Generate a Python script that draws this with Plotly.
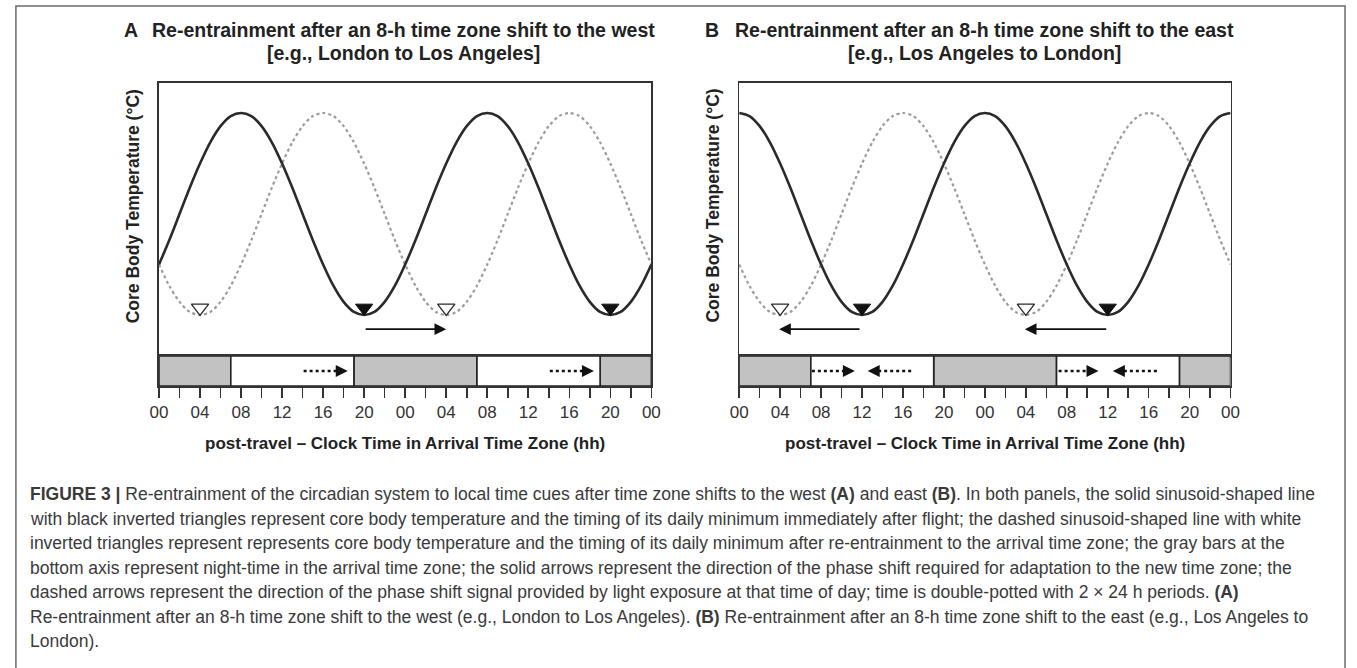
import plotly.graph_objects as go

W, H = 1357, 668

# ---------------- data ----------------
hours = [0, 1, 2, 3, 4, 5, 6, 7, 8, 9, 10, 11, 12, 13, 14, 15, 16, 17, 18, 19, 20, 21, 22, 23,
         24, 25, 26, 27, 28, 29, 30, 31, 32, 33, 34, 35, 36, 37, 38, 39, 40, 41, 42, 43, 44, 45,
         46, 47, 48]

# normalised core body temperature (arbitrary units)
a_solid = [-0.5, -0.26, 0, 0.26, 0.5, 0.71, 0.87, 0.97, 1, 0.97, 0.87, 0.71, 0.5, 0.26, 0,
           -0.26, -0.5, -0.71, -0.87, -0.97, -1, -0.97, -0.87, -0.71,
           -0.5, -0.26, 0, 0.26, 0.5, 0.71, 0.87, 0.97, 1, 0.97, 0.87, 0.71, 0.5, 0.26, 0,
           -0.26, -0.5, -0.71, -0.87, -0.97, -1, -0.97, -0.87, -0.71, -0.5]
a_dashed = [-0.5, -0.71, -0.87, -0.97, -1, -0.97, -0.87, -0.71, -0.5, -0.26, 0, 0.26, 0.5,
            0.71, 0.87, 0.97, 1, 0.97, 0.87, 0.71, 0.5, 0.26, 0, -0.26,
            -0.5, -0.71, -0.87, -0.97, -1, -0.97, -0.87, -0.71, -0.5, -0.26, 0, 0.26, 0.5,
            0.71, 0.87, 0.97, 1, 0.97, 0.87, 0.71, 0.5, 0.26, 0, -0.26, -0.5]
b_solid = [1, 0.97, 0.87, 0.71, 0.5, 0.26, 0, -0.26, -0.5, -0.71, -0.87, -0.97, -1, -0.97,
           -0.87, -0.71, -0.5, -0.26, 0, 0.26, 0.5, 0.71, 0.87, 0.97,
           1, 0.97, 0.87, 0.71, 0.5, 0.26, 0, -0.26, -0.5, -0.71, -0.87, -0.97, -1, -0.97,
           -0.87, -0.71, -0.5, -0.26, 0, 0.26, 0.5, 0.71, 0.87, 0.97, 1]
b_dashed = [-0.5, -0.71, -0.87, -0.97, -1, -0.97, -0.87, -0.71, -0.5, -0.26, 0, 0.26, 0.5,
            0.71, 0.87, 0.97, 1, 0.97, 0.87, 0.71, 0.5, 0.26, 0, -0.26,
            -0.5, -0.71, -0.87, -0.97, -1, -0.97, -0.87, -0.71, -0.5, -0.26, 0, 0.26, 0.5,
            0.71, 0.87, 0.97, 1, 0.97, 0.87, 0.71, 0.5, 0.26, 0, -0.26, -0.5]

# timing of daily minima (h)
a_min_solid = [20, 44]
a_min_dashed = [4, 28]
b_min_solid = [12, 36]
b_min_dashed = [4, 28]
min_marker_level = [-0.93, -0.93]

# solid phase-shift arrows (tail h, tip h)
a_shift_tail = [20]
a_shift_tip = [28]
b_shift_tail = [11.9, 36]
b_shift_tip = [3.9, 27.9]
shift_level = -1.14

# night-time (gray) and day-time (white) bars in arrival time zone
night_start = [0, 19, 43]
night_end = [7, 31, 48]
day_start = [7, 31]
day_end = [19, 43]

# dashed light-signal arrows (tail h, tip h)
a_light_tail = [14.1, 38.1]
a_light_tip = [18.4, 42.4]
b_light_tail = [7.1, 16.8, 31.2, 40.8]
b_light_tip = [11.3, 12.55, 35.1, 36.5]

tick_vals = [0, 2, 4, 6, 8, 10, 12, 14, 16, 18, 20, 22, 24,
             26, 28, 30, 32, 34, 36, 38, 40, 42, 44, 46, 48]
tick_text = ["00", "", "04", "", "08", "", "12", "", "16", "", "20", "", "00",
             "", "04", "", "08", "", "12", "", "16", "", "20", "", "00"]

caption_lines = [
    "<b>FIGURE 3 |</b> Re-entrainment of the circadian system to local time cues after time zone shifts to the west <b>(A)</b> and east <b>(B)</b>. In both panels, the solid sinusoid-shaped line",
    "with black inverted triangles represent core body temperature and the timing of its daily minimum immediately after flight; the dashed sinusoid-shaped line with white",
    "inverted triangles represent represents core body temperature and the timing of its daily minimum after re-entrainment to the arrival time zone; the gray bars at the",
    "bottom axis represent night-time in the arrival time zone; the solid arrows represent the direction of the phase shift required for adaptation to the new time zone; the",
    "dashed arrows represent the direction of the phase shift signal provided by light exposure at that time of day; time is double-potted with 2 \u00d7 24 h periods. <b>(A)</b>",
    "Re-entrainment after an 8-h time zone shift to the west (e.g., London to Los Angeles). <b>(B)</b> Re-entrainment after an 8-h time zone shift to the east (e.g., Los Angeles to",
    "London).",
]

# ---------------- layout helpers ----------------
def px(x):
    return x / W

def py(y):
    return 1 - y / H

FONT = "Liberation Sans, Arial, sans-serif"
DARK = "#2a2a2a"
LINE = "#333333"

panels = [
    dict(key="A", solid=a_solid, dashed=a_dashed, min_s=a_min_solid, min_d=a_min_dashed,
         sh_tail=a_shift_tail, sh_tip=a_shift_tip, l_tail=a_light_tail, l_tip=a_light_tip,
         x0=152, x1=651, ax=("x", "y", "x2", "y2"),
         t1="Re-entrainment after an 8-h time zone shift to the west",
         t2="[e.g., London to Los Angeles]", letter_x=124, ylab_x=126, tcx=400),
    dict(key="B", solid=b_solid, dashed=b_dashed, min_s=b_min_solid, min_d=b_min_dashed,
         sh_tail=b_shift_tail, sh_tip=b_shift_tip, l_tail=b_light_tail, l_tip=b_light_tip,
         x0=740, x1=1238, ax=("x3", "y3", "x4", "y4"),
         t1="Re-entrainment after an 8-h time zone shift to the east",
         t2="[e.g., Los Angeles to London]", letter_x=712, ylab_x=713, tcx=989),
]

TOP, MID, BOT = 83, 356, 386

fig = go.Figure()
annotations = []
layout_axes = {}

for p in panels:
    xa, ya, xb, yb = p["ax"]
    # curves
    fig.add_trace(go.Scatter(x=hours, y=p["dashed"], mode="lines", xaxis=xa, yaxis=ya,
                             line=dict(color="#9c9c9c", width=2.2, dash="dot",
                                       shape="spline", smoothing=0.8),
                             hoverinfo="skip", showlegend=False))
    fig.add_trace(go.Scatter(x=hours, y=p["solid"], mode="lines", xaxis=xa, yaxis=ya,
                             line=dict(color=DARK, width=2.6, shape="spline", smoothing=0.8),
                             hoverinfo="skip", showlegend=False))
    # minima markers
    fig.add_trace(go.Scatter(x=p["min_d"], y=min_marker_level, mode="markers", xaxis=xa, yaxis=ya,
                             marker=dict(symbol="triangle-down", size=15, color="white",
                                         line=dict(color=DARK, width=1.3)),
                             hoverinfo="skip", showlegend=False))
    fig.add_trace(go.Scatter(x=p["min_s"], y=min_marker_level, mode="markers", xaxis=xa, yaxis=ya,
                             marker=dict(symbol="triangle-down", size=15, color="#111111",
                                         line=dict(color="#111111", width=1.0)),
                             hoverinfo="skip", showlegend=False))
    # solid shift arrows
    for t0, t1 in zip(p["sh_tail"], p["sh_tip"]):
        annotations.append(dict(x=t1, y=shift_level, ax=t0, ay=shift_level,
                                xref=xa, yref=ya, axref=xa, ayref=ya, text="",
                                showarrow=True, arrowhead=2, arrowsize=1.3,
                                arrowwidth=1.8, arrowcolor="#111111"))
    # night / day bars
    fig.add_trace(go.Bar(orientation="h", y=[0] * len(night_start), base=night_start,
                         x=[e - s for s, e in zip(night_start, night_end)], width=1,
                         xaxis=xb, yaxis=yb,
                         marker=dict(color="#c2c2c2", line=dict(color="#222222", width=1.6)),
                         hoverinfo="skip", showlegend=False))
    fig.add_trace(go.Bar(orientation="h", y=[0] * len(day_start), base=day_start,
                         x=[e - s for s, e in zip(day_start, day_end)], width=1,
                         xaxis=xb, yaxis=yb,
                         marker=dict(color="white", line=dict(color="#222222", width=1.6)),
                         hoverinfo="skip", showlegend=False))
    # dotted light arrows
    for t0, t1 in zip(p["l_tail"], p["l_tip"]):
        d = 1 if t1 > t0 else -1
        fig.add_trace(go.Scatter(x=[t0, t1 - d * 1.0], y=[0, 0], mode="lines", xaxis=xb, yaxis=yb,
                                 line=dict(color="#111111", width=2.6, dash="dot"),
                                 hoverinfo="skip", showlegend=False))
        annotations.append(dict(x=t1, y=0, ax=t1 - d * 1.1, ay=0,
                                xref=xb, yref=yb, axref=xb, ayref=yb, text="",
                                showarrow=True, arrowhead=2, arrowsize=1.2,
                                arrowwidth=2.0, arrowcolor="#111111"))

    dom = [px(p["x0"]), px(p["x1"])]
    common = dict(showgrid=False, zeroline=False, showline=True, mirror=True,
                  linecolor=LINE, linewidth=1.6, fixedrange=True)
    layout_axes["xaxis" + xa[1:]] = dict(domain=dom, range=[0, 48], anchor=ya,
                                         showticklabels=False, ticks="", **common)
    layout_axes["yaxis" + ya[1:]] = dict(domain=[py(MID), py(TOP)], range=[-1.406, 1.297],
                                         anchor=xa, showticklabels=False, ticks="", **common)
    layout_axes["xaxis" + xb[1:]] = dict(domain=dom, range=[0, 48], anchor=yb,
                                         tickmode="array", tickvals=tick_vals, ticktext=tick_text,
                                         ticks="outside", ticklen=10, tickwidth=1.6,
                                         tickcolor=LINE,
                                         tickfont=dict(family=FONT, size=17, color="#333333"),
                                         **common)
    layout_axes["yaxis" + yb[1:]] = dict(domain=[py(BOT), py(MID)], range=[-0.5, 0.5],
                                         anchor=xb, showticklabels=False, ticks="", **common)

    cx = (p["x0"] + p["x1"]) / 2
    tfont = dict(family=FONT, size=19.5, color="#222222")
    annotations += [
        dict(x=px(p["letter_x"]), y=py(30), xref="paper", yref="paper", showarrow=False,
             text="<b>" + p["key"] + "</b>", font=tfont, xanchor="center", yanchor="middle"),
        dict(x=px(p["tcx"]), y=py(30), xref="paper", yref="paper", showarrow=False,
             text="<b>" + p["t1"] + "</b>", font=tfont, xanchor="center", yanchor="middle"),
        dict(x=px(p["tcx"]), y=py(53), xref="paper", yref="paper", showarrow=False,
             text="<b>" + p["t2"] + "</b>", font=tfont, xanchor="center", yanchor="middle"),
        dict(x=px(p["ylab_x"]), y=py(206), xref="paper", yref="paper", showarrow=False,
             text="<b>Core Body Temperature (\u00b0C)</b>", textangle=-90,
             font=dict(family=FONT, size=17.5, color="#222222"),
             xanchor="center", yanchor="middle"),
        dict(x=px(cx), y=py(443), xref="paper", yref="paper", showarrow=False,
             text="<b>post-travel \u2013 Clock Time in Arrival Time Zone (hh)</b>",
             font=dict(family=FONT, size=17, color="#222222"),
             xanchor="center", yanchor="middle"),
    ]

for i, line in enumerate(caption_lines):
    annotations.append(dict(x=px(19), y=py(494 + 24.5 * i), xref="paper", yref="paper",
                            showarrow=False, text=line, xanchor="left", yanchor="middle",
                            font=dict(family=FONT, size=17.5, color="#3a3a3a")))

fig.update_layout(
    width=W, height=H, autosize=False,
    margin=dict(l=0, r=0, t=0, b=0),
    paper_bgcolor="white", plot_bgcolor="white",
    barmode="overlay", showlegend=False,
    annotations=annotations,
    shapes=[dict(type="rect", xref="paper", yref="paper",
                 x0=px(7), x1=px(1354), y0=-0.2, y1=py(6),
                 line=dict(color="#6a6a6a", width=1.5), fillcolor="rgba(0,0,0,0)",
                 layer="below")],
    **layout_axes,
)

fig.write_html("out.html", config={"displayModeBar": False, "staticPlot": True},
               post_script="document.body.style.margin='0';document.body.style.overflow='hidden';")
